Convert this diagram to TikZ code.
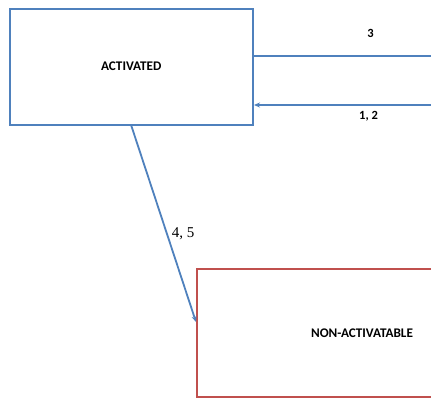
\documentclass[tikz,border=0pt]{standalone}
\usepackage{fontspec}
\newfontfamily\carlito{Carlito}
\newfontfamily\serlbfont{Liberation Serif}
\usetikzlibrary{arrows.meta}
\definecolor{ofblue}{HTML}{4F81BD}
\definecolor{ofred}{HTML}{C0504D}
\tikzset{
  statebox/.style={draw, line width=2pt, fill=white, inner sep=0pt,
    font=\carlito\bfseries\fontsize{13.2}{15}\selectfont},
  conn/.style={draw=ofblue, line width=1.8pt},
  arr/.style={conn, -{Stealth[length=6pt,width=5pt]}},
  lbl/.style={font=\carlito\bfseries\fontsize{12.5}{14}\selectfont, inner sep=0pt},
  serlbl/.style={font=\serlbfont\fontsize{15}{17}\selectfont, inner sep=0pt}
}
\begin{document}
\begin{tikzpicture}[x=1pt,y=-1pt]
\useasboundingbox (0,0) rectangle (431,399);
\clip (0,0) rectangle (431,399);
\fill[white] (0,0) rectangle (431,399);
\node[statebox, draw=ofblue, minimum width=243.5pt, minimum height=116pt] (act) at (131.25,66.5) {ACTIVATED};
\node[statebox, draw=ofred, minimum width=330pt, minimum height=128pt] (non) at (362,333) {NON-ACTIVATABLE};
\coordinate (r1) at (445,56);
\coordinate (r2) at (445,105);
\draw[conn] (act.east |- r1) -- node[lbl, pos=0.61, yshift=23pt] (l3) {3} (r1);
\draw[arr] (r2) -- node[lbl, pos=0.4, yshift=-11.5pt] (l12) {1, 2} (act.east |- r2);
\draw[arr] (act.south) -- node[serlbl, pos=0.553, anchor=west, xshift=4pt] (l45) {4, 5} ([yshift=11pt]non.west);
\end{tikzpicture}
\end{document}
